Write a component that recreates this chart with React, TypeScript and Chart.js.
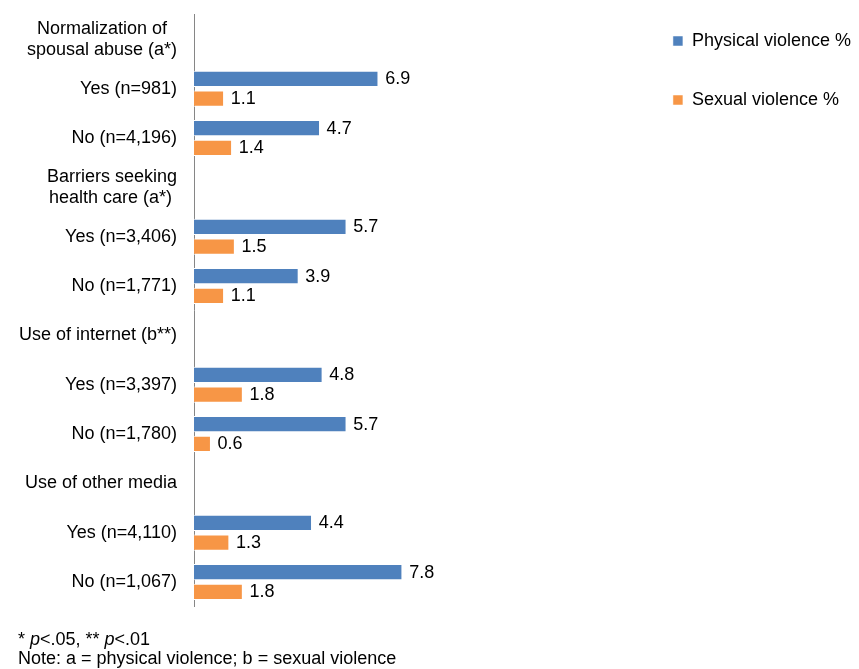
import React, { useEffect, useRef } from "react";
import { Chart, registerables } from "chart.js";

Chart.register(...registerables);

// ---- data ----
const categories: (string | string[])[] = [
  ["Normalization of  ", "spousal abuse (a*)"],
  "Yes (n=981)",
  "No (n=4,196)",
  ["Barriers seeking", "health care (a*) "],
  "Yes (n=3,406)",
  "No (n=1,771)",
  "Use of internet (b**)",
  "Yes (n=3,397)",
  "No (n=1,780)",
  "Use of other media",
  "Yes (n=4,110)",
  "No (n=1,067)",
];
const physicalViolence: (number | null)[] = [null, 6.9, 4.7, null, 5.7, 3.9, null, 4.8, 5.7, null, 4.4, 7.8];
const sexualViolence: (number | null)[] = [null, 1.1, 1.4, null, 1.5, 1.1, null, 1.8, 0.6, null, 1.3, 1.8];
const seriesNames = ["Physical violence %", "Sexual violence %"];
const seriesColors = ["#4F81BD", "#F79646"];
const noteLine = "Note: a = physical violence; b = sexual violence";

const FONT = '"Liberation Sans", Arial, sans-serif';

const valueLabels = {
  id: "valueLabels",
  afterDatasetsDraw(chart: any) {
    const ctx = chart.ctx;
    ctx.save();
    ctx.font = `18px ${FONT}`;
    ctx.fillStyle = "#000";
    ctx.textAlign = "left";
    ctx.textBaseline = "middle";
    chart.data.datasets.forEach((ds: any, i: number) => {
      const meta = chart.getDatasetMeta(i);
      meta.data.forEach((el: any, j: number) => {
        const v = ds.data[j];
        if (v == null) return;
        ctx.fillText(Number(v).toFixed(1), el.x + 7.5, el.y + 0.5);
      });
    });
    ctx.restore();
  },
};

export default function App() {
  const ref = useRef<HTMLCanvasElement | null>(null);

  useEffect(() => {
    if (!ref.current) return;
    Chart.defaults.font.family = FONT;
    Chart.defaults.font.size = 18;
    Chart.defaults.color = "#000";
    const chart = new Chart(ref.current, {
      type: "bar",
      data: {
        labels: categories,
        datasets: [
          {
            label: seriesNames[0],
            data: physicalViolence,
            backgroundColor: seriesColors[0],
            borderColor: "#ffffff",
            borderWidth: { top: 1, bottom: 1, left: 0, right: 0 },
            categoryPercentage: 0.8,
            barPercentage: 0.83,
          },
          {
            label: seriesNames[1],
            data: sexualViolence,
            backgroundColor: seriesColors[1],
            borderColor: "#ffffff",
            borderWidth: { top: 1, bottom: 1, left: 0, right: 0 },
            categoryPercentage: 0.8,
            barPercentage: 0.83,
          },
        ],
      },
      options: {
        indexAxis: "y",
        animation: false,
        responsive: true,
        maintainAspectRatio: false,
        layout: { padding: { top: -9, right: -2, left: 0, bottom: 0 } },
        scales: {
          x: { display: false, min: 0, max: 16.45 },
          y: {
            grid: { display: false, drawTicks: false },
            border: { display: true, color: "#868686", width: 1 },
            ticks: { padding: 17, color: "#000", font: { size: 18 }, autoSkip: false },
            afterFit(s: any) {
              s.width = 194;
              s.paddingTop = 14.7;
              s.paddingBottom = 62.3;
            },
          },
        },
        plugins: {
          legend: {
            position: "right",
            align: "start",
            maxWidth: 400,
            labels: {
              boxWidth: 10,
              boxHeight: 10,
              padding: 41,
              color: "#000",
              font: { size: 18 },
            },
          },
          tooltip: { enabled: false },
        },
      } as any,
      plugins: [valueLabels],
    });
    return () => chart.destroy();
  }, []);

  return (
    <div style={{ position: "absolute", left: 0, top: 0, width: 859, height: 669, background: "#fff" }}>
      <canvas ref={ref} />
      <div
        style={{
          position: "absolute",
          left: 18,
          top: 629.7,
          fontFamily: FONT,
          fontSize: 18,
          lineHeight: "19.5px",
          color: "#000",
          whiteSpace: "nowrap",
        }}
      >
        <div>
          * <i>p</i>&lt;.05, ** <i>p</i>&lt;.01
        </div>
        <div>{noteLine}</div>
      </div>
    </div>
  );
}
